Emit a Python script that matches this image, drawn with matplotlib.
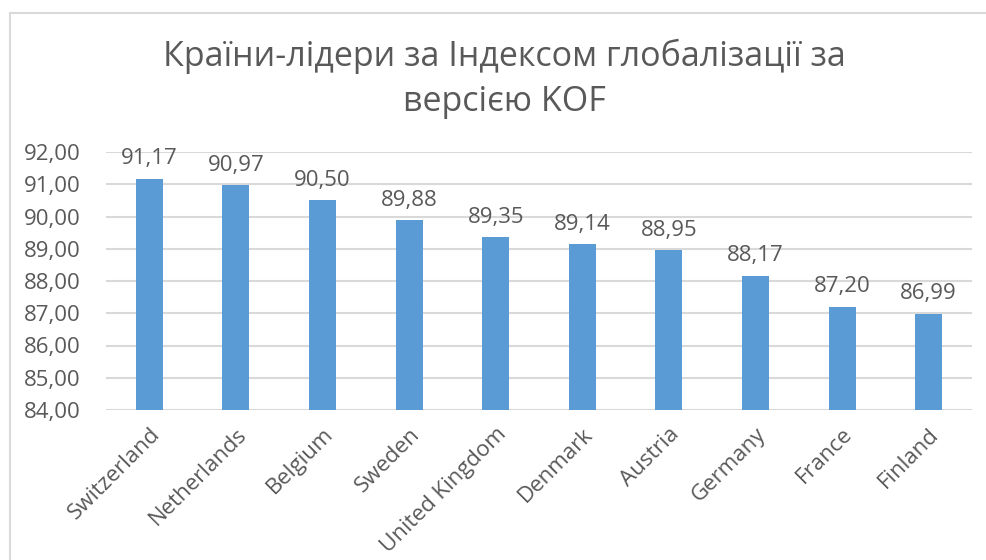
import matplotlib

matplotlib.use("Agg")
import matplotlib.pyplot as plt
from matplotlib.patches import Rectangle

countries = ["Switzerland", "Netherlands", "Belgium", "Sweden", "United Kingdom",
             "Denmark", "Austria", "Germany", "France", "Finland"]
kof_index = [91.17, 90.97, 90.50, 89.88, 89.35, 89.14, 88.95, 88.17, 87.20, 86.99]
y_ticks = [84, 85, 86, 87, 88, 89, 90, 91, 92]
title = "Країни-лідери за Індексом глобалізації за\nверсією KOF"

BAR = "#5b9bd5"
TXT = "#595959"
GRID = "#d9d9d9"

plt.rcParams["font.family"] = ["Open Sans", "DejaVu Sans"]

W, H = 987, 560
fig = plt.figure(figsize=(W / 100, H / 100), dpi=100)

# outer chart frame (partly cut off at right/bottom, like the screenshot)
fig.patches.append(Rectangle((10 / W, -0.05), 1.2, 1 - 13 / H + 0.05,
                             transform=fig.transFigure, fill=False,
                             edgecolor=GRID, linewidth=1.5))

ax = fig.add_axes([106 / W, 1 - 410 / H, (972 - 106) / W, (410 - 152) / H])
x = range(len(countries))
ax.bar(x, [v - 84 for v in kof_index], bottom=84, width=0.31, color=BAR, zorder=2)

for xi, v in zip(x, kof_index):
    ax.text(xi, v + 0.3, f"{v:.2f}".replace(".", ","), ha="center", va="bottom",
            fontsize=16, color=TXT)

ax.set_ylim(84, 92)
ax.set_xlim(-0.5, len(countries) - 0.5)
ax.set_yticks(y_ticks)
ax.set_yticklabels([f"{t},00" for t in y_ticks])
ax.set_xticks(list(x))
ax.set_xticklabels(countries, rotation=45, ha="right", rotation_mode="anchor")
ax.tick_params(axis="both", length=0, labelsize=16, colors=TXT)
ax.tick_params(axis="y", pad=18)
ax.tick_params(axis="x", pad=10)
ax.grid(axis="y", color=GRID, linewidth=1.5, zorder=0)
for s in ax.spines.values():
    s.set_visible(False)

fig.text(504 / W, 1 - 79 / H, title, ha="center", va="center", fontsize=24.5,
         color=TXT, linespacing=1.4)

fig.savefig("out.png", dpi=100)
